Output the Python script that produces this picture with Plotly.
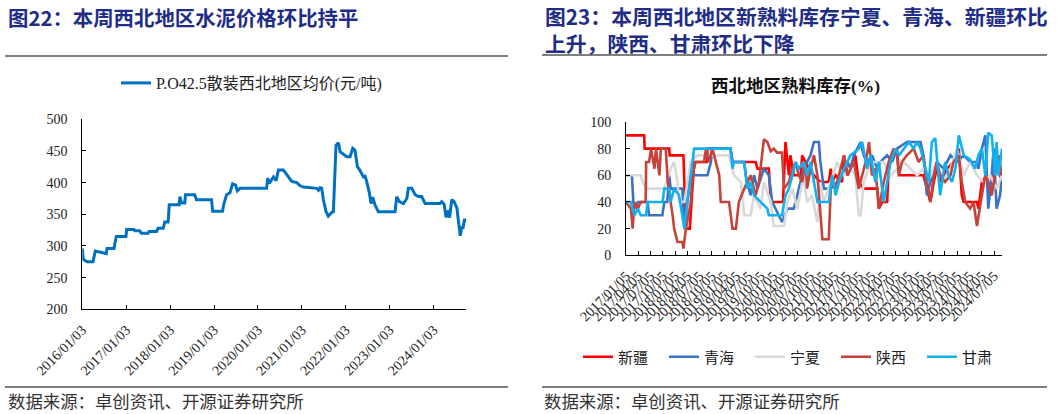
import plotly.graph_objects as go
import pandas as pd

# ---------------- data: left chart (P.O42.5 bulk cement, NW average price, yuan/t)
price_dates = [
    "2016-01-03", "2016-01-11", "2016-02-12", "2016-04-01", "2016-04-20", "2016-07-20",
    "2016-07-27", "2016-09-23", "2016-09-29", "2016-10-12", "2016-12-31", "2017-01-06",
    "2017-03-07", "2017-03-15", "2017-04-24", "2017-05-09", "2017-07-03", "2017-07-12",
    "2017-09-11", "2017-09-24", "2017-11-06", "2017-11-19", "2017-12-17", "2017-12-26",
    "2018-03-18", "2018-03-25", "2018-04-07", "2018-05-04", "2018-05-10", "2018-07-26",
    "2018-08-09", "2018-12-13", "2018-12-22", "2019-03-14", "2019-03-26", "2019-04-17",
    "2019-05-15", "2019-06-06", "2019-07-01", "2019-07-15", "2019-08-07", "2020-03-15",
    "2020-03-24", "2020-04-07", "2020-04-27", "2020-05-11", "2020-06-02", "2020-06-21",
    "2020-08-01", "2020-08-30", "2020-10-10", "2020-11-21", "2020-12-19", "2021-01-16",
    "2021-05-06", "2021-05-20", "2021-06-03", "2021-06-16", "2021-06-30", "2021-07-22",
    "2021-08-10", "2021-09-07", "2021-09-21", "2021-10-13", "2021-11-02", "2021-11-16",
    "2021-12-14", "2022-01-10", "2022-02-07", "2022-03-01", "2022-03-20", "2022-04-09",
    "2022-05-01", "2022-05-29", "2022-06-12", "2022-06-25", "2022-07-17", "2022-07-31",
    "2022-08-14", "2022-09-02", "2022-09-30", "2023-02-16", "2023-03-02", "2023-03-24",
    "2023-04-27", "2023-05-25", "2023-06-07", "2023-07-05", "2023-08-02", "2023-08-29",
    "2023-09-26", "2023-10-24", "2024-02-25", "2024-03-10", "2024-03-30", "2024-04-16",
    "2024-04-27", "2024-05-14", "2024-06-02", "2024-06-21", "2024-07-14", "2024-07-28",
    "2024-08-11", "2024-08-26", "2024-09-03", "2024-09-14", "2024-09-28",
]
price_values = [
    296, 279, 275, 275, 292, 288,
    296, 296, 303, 315, 315, 326,
    326, 324, 324, 320, 320, 323,
    323, 328, 328, 338, 338, 365,
    365, 378, 368, 368, 381, 381,
    373, 373, 355, 355, 367, 381,
    384, 398, 396, 387, 391, 391,
    407, 399, 405, 409, 403, 420,
    420, 413, 402, 400, 395, 393,
    391, 388, 392, 391, 373, 354,
    347, 353, 354, 459, 463, 449,
    445, 441, 441, 454, 451, 425,
    419, 409, 410, 402, 384, 367,
    377, 365, 354, 354, 378, 370,
    367, 375, 391, 391, 381, 378,
    378, 367, 367, 370, 366, 345,
    356, 345, 373, 370, 360, 336,
    316, 331, 327, 341, 341,
]
price_ticks = ["2016-01-03", "2017-01-03", "2018-01-03", "2019-01-03", "2020-01-03",
               "2021-01-03", "2022-01-03", "2023-01-03", "2024-01-03"]
price_ticktext = ["2016/01/03", "2017/01/03", "2018/01/03", "2019/01/03", "2020/01/03",
                  "2021/01/03", "2022/01/03", "2023/01/03", "2024/01/03"]

# ---------------- data: right chart (NW clinker inventory %, time in decimal years)
xj_t = [2017.00, 2017.37, 2017.38, 2017.88, 2017.89, 2018.17, 2018.22, 2018.30, 2018.39, 2018.65,
        2018.66, 2019.13, 2019.17, 2019.64, 2019.68, 2019.91, 2019.95, 2020.20, 2020.25, 2020.29,
        2020.32, 2020.35, 2020.42, 2020.56, 2020.59, 2020.66, 2020.73, 2020.83, 2020.96, 2021.13,
        2021.17, 2021.20, 2021.27, 2021.40, 2021.44, 2021.51, 2021.57, 2021.67, 2021.74, 2021.84,
        2022.01, 2022.12, 2022.15, 2022.22, 2022.32, 2022.35, 2022.42, 2022.52, 2022.56, 2022.79,
        2023.06, 2023.13, 2023.20, 2023.27, 2023.33, 2023.40, 2023.54, 2023.67, 2023.78, 2023.84,
        2023.88, 2024.15, 2024.18, 2024.25, 2024.35, 2024.42, 2024.49, 2024.55, 2024.62, 2024.66]
xj_v = [90, 90, 80, 80, 75, 75, 20, 20, 70, 70,
        80, 80, 70, 70, 65, 65, 40, 40, 85, 72,
        60, 75, 60, 60, 75, 70, 65, 60, 55, 55,
        65, 55, 60, 55, 75, 60, 65, 75, 55, 50,
        50, 50, 35, 40, 40, 65, 75, 80, 60, 60,
        60, 50, 40, 55, 65, 55, 65, 70, 80, 45,
        40, 40, 35, 55, 60, 45, 55, 75, 60, 55]

qh_t = [2017.00, 2017.12, 2017.15, 2017.20, 2017.24, 2017.44, 2017.47, 2017.74, 2017.78, 2017.84,
        2017.88, 2017.91, 2018.15, 2018.19, 2018.25, 2018.32, 2018.66, 2018.73, 2018.76, 2019.13,
        2019.17, 2019.41, 2019.44, 2019.47, 2019.54, 2019.61, 2019.68, 2019.81, 2019.91, 2019.98,
        2020.18, 2020.29, 2020.42, 2020.49, 2020.56, 2020.62, 2020.76, 2020.83, 2020.93, 2020.96,
        2021.03, 2021.13, 2021.20, 2021.27, 2021.34, 2021.40, 2021.51, 2021.57, 2021.64, 2021.78,
        2021.84, 2021.91, 2022.01, 2022.12, 2022.18, 2022.32, 2022.42, 2022.52, 2022.72, 2023.00,
        2023.06, 2023.13, 2023.20, 2023.27, 2023.33, 2023.47, 2023.61, 2023.74, 2023.88, 2024.01,
        2024.15, 2024.18, 2024.25, 2024.32, 2024.38, 2024.45, 2024.49, 2024.55, 2024.62, 2024.66]
qh_v = [60, 60, 40, 35, 40, 40, 30, 30, 40, 40,
        60, 50, 50, 20, 40, 60, 60, 70, 80, 80,
        70, 70, 60, 55, 45, 60, 50, 65, 60, 40,
        25, 35, 35, 45, 55, 65, 75, 85, 85, 70,
        50, 50, 55, 50, 55, 60, 70, 65, 75, 85,
        75, 70, 75, 65, 70, 75, 70, 80, 85, 85,
        75, 45, 55, 60, 70, 65, 75, 70, 75, 70,
        70, 65, 80, 90, 35, 60, 80, 35, 45, 60]

nx_t = [2017.00, 2017.30, 2017.34, 2017.41, 2017.78, 2017.91, 2017.98, 2018.05, 2018.08, 2018.19,
        2018.32, 2018.46, 2019.10, 2019.20, 2019.34, 2019.41, 2019.54, 2019.61, 2019.74, 2019.81,
        2019.95, 2020.01, 2020.22, 2020.29, 2020.39, 2020.49, 2020.62, 2020.69, 2020.79, 2020.90,
        2020.96, 2021.03, 2021.17, 2021.30, 2021.44, 2021.57, 2021.67, 2021.74, 2021.78, 2021.84,
        2021.98, 2022.25, 2022.39, 2022.52, 2022.66, 2022.79, 2022.93, 2023.06, 2023.20, 2023.33,
        2023.47, 2023.61, 2023.74, 2023.88, 2024.01, 2024.15, 2024.28, 2024.42, 2024.55, 2024.66]
nx_v = [60, 60, 55, 50, 50, 65, 70, 55, 40, 40,
        70, 75, 75, 60, 55, 30, 30, 45, 35, 55,
        40, 22, 22, 40, 50, 35, 60, 40, 45, 25,
        55, 40, 55, 70, 60, 65, 60, 30, 30, 55,
        70, 70, 60, 65, 70, 65, 60, 65, 60, 70,
        55, 65, 80, 60, 70, 60, 55, 60, 50, 60]

sx_t = [2017.00, 2017.10, 2017.135, 2017.17, 2017.24, 2017.30, 2017.40, 2017.41, 2017.47, 2017.51,
        2017.58, 2017.61, 2017.68, 2017.71, 2017.81, 2017.85, 2017.95, 2017.98, 2018.05, 2018.15,
        2018.17, 2018.22, 2018.32, 2018.355, 2018.42, 2018.59, 2018.63, 2018.69, 2018.76, 2018.83,
        2018.90, 2018.93, 2019.10, 2019.17, 2019.24, 2019.30, 2019.41, 2019.54, 2019.64, 2019.71,
        2019.81, 2019.88, 2019.95, 2020.01, 2020.08, 2020.18, 2020.22, 2020.32, 2020.39, 2020.46,
        2020.52, 2020.59, 2020.66, 2020.69, 2020.76, 2020.83, 2020.90, 2021.00, 2021.13, 2021.17,
        2021.30, 2021.44, 2021.51, 2021.64, 2021.74, 2021.81, 2021.88, 2021.95, 2022.01, 2022.08,
        2022.15, 2022.25, 2022.35, 2022.45, 2022.52, 2022.56, 2022.62, 2022.72, 2022.86, 2022.96,
        2023.06, 2023.13, 2023.20, 2023.27, 2023.33, 2023.40, 2023.50, 2023.61, 2023.67, 2023.78,
        2023.84, 2023.91, 2024.01, 2024.08, 2024.15, 2024.25, 2024.32, 2024.38, 2024.45, 2024.52,
        2024.59, 2024.66]
sx_v = [40, 35, 20, 40, 35, 40, 40, 70, 70, 80,
        65, 80, 60, 80, 80, 55, 30, 20, 10, 10,
        5, 20, 40, 60, 70, 70, 80, 70, 80, 70,
        60, 40, 40, 20, 20, 40, 50, 60, 45, 55,
        87, 85, 78, 80, 77, 77, 50, 55, 65, 70,
        60, 55, 70, 50, 65, 75, 60, 12, 12, 50,
        55, 75, 60, 70, 50, 60, 70, 85, 60, 65,
        35, 55, 70, 80, 75, 60, 70, 75, 80, 70,
        75, 55, 40, 60, 70, 60, 55, 60, 70, 75,
        55, 40, 35, 40, 22, 45, 60, 55, 45, 60,
        75, 60]

gs_t = [2017.00, 2017.10, 2017.17, 2017.24, 2017.30, 2017.41, 2017.44, 2017.745, 2017.78, 2017.88,
        2017.91, 2017.98, 2018.08, 2018.19, 2018.25, 2018.32, 2018.39, 2019.13, 2019.17, 2019.20,
        2019.41, 2019.47, 2019.54, 2019.61, 2019.74, 2019.88, 2019.91, 2020.18, 2020.25, 2020.32,
        2020.39, 2020.46, 2020.52, 2020.62, 2020.69, 2020.76, 2020.90, 2021.13, 2021.20, 2021.27,
        2021.34, 2021.44, 2021.57, 2021.67, 2021.74, 2021.81, 2021.91, 2021.98, 2022.08, 2022.15,
        2022.25, 2022.32, 2022.39, 2022.49, 2022.56, 2022.66, 2022.76, 2022.86, 2022.93, 2023.00,
        2023.10, 2023.17, 2023.23, 2023.30, 2023.40, 2023.50, 2023.57, 2023.64, 2023.71, 2023.78,
        2023.88, 2024.01, 2024.11, 2024.18, 2024.25, 2024.32, 2024.38, 2024.45, 2024.52, 2024.55,
        2024.59, 2024.66]
gs_v = [40, 40, 30, 35, 30, 30, 40, 40, 50, 50,
        40, 50, 45, 20, 40, 60, 80, 80, 65, 70,
        70, 50, 55, 45, 40, 35, 30, 30, 45, 50,
        60, 70, 65, 70, 60, 70, 40, 40, 60, 45,
        55, 65, 75, 78, 80, 85, 65, 75, 55, 70,
        40, 55, 70, 80, 75, 80, 85, 80, 85, 80,
        65, 55, 85, 88, 45, 70, 60, 55, 65, 90,
        75, 72, 65, 75, 80, 60, 92, 90, 60, 85,
        60, 80]

inv_ticks = ["2017-01-05", "2017-04-05", "2017-07-05", "2017-10-05",
             "2018-01-05", "2018-04-05", "2018-07-05", "2018-10-05",
             "2019-01-05", "2019-04-05", "2019-07-05", "2019-10-05",
             "2020-01-05", "2020-04-05", "2020-07-05", "2020-10-05",
             "2021-01-05", "2021-04-05", "2021-07-05", "2021-10-05",
             "2022-01-05", "2022-04-05", "2022-07-05", "2022-10-05",
             "2023-01-05", "2023-04-05", "2023-07-05", "2023-10-05",
             "2024-01-05", "2024-04-05", "2024-07-05"]
inv_ticktext = [d.replace("-", "/") for d in inv_ticks]

series = [
    ("新疆", xj_t, xj_v, "#FF0000"),
    ("青海", qh_t, qh_v, "#3A72C6"),
    ("宁夏", nx_t, nx_v, "#D9D9D9"),
    ("陕西", sx_t, sx_v, "#C5433A"),
    ("甘肃", gs_t, gs_v, "#12B0EE"),
]


def dec_to_date(v):
    y = int(v)
    return pd.Timestamp(year=y, month=1, day=5) + pd.Timedelta(days=(v - y) * 365.25)


# ---------------- figure
W, H = 1057, 414
SERIF = "Liberation Serif, Noto Sans CJK SC"
CJK = "Noto Sans CJK SC"
NAVY = "#1F2D86"


def fx(p):
    return p / W


def fy(p):
    return 1 - p / H


fig = go.Figure()

fig.add_trace(go.Scatter(
    x=pd.to_datetime(price_dates), y=price_values, mode="lines",
    name="P.O42.5散装西北地区均价(元/吨)",
    line=dict(color="#0070C0", width=3),
    xaxis="x", yaxis="y", legend="legend",
))

for name, t, v, color in series:
    fig.add_trace(go.Scatter(
        x=[dec_to_date(a) for a in t], y=v, mode="lines", name=name,
        line=dict(color=color, width=2.6),
        xaxis="x2", yaxis="y2", legend="legend2",
    ))

axis_common = dict(showline=True, linecolor="#000000", linewidth=1, showgrid=False,
                   zeroline=False, ticks="inside", ticklen=4, tickcolor="#000000",
                   automargin=False,
                   tickfont=dict(family=SERIF, size=14, color="#222222"))

fig.update_layout(
    width=W, height=H,
    margin=dict(l=0, r=0, t=0, b=0, autoexpand=False),
    paper_bgcolor="white", plot_bgcolor="white",
    xaxis=dict(domain=[fx(82.3), fx(466)], anchor="y", type="date",
               range=["2016-01-03", "2024-09-28"],
               tickvals=pd.to_datetime(price_ticks), ticktext=price_ticktext,
               tickangle=-45, ticklabelstandoff=6, **axis_common),
    yaxis=dict(domain=[fy(309.3), fy(119.3)], anchor="x", range=[200, 500], dtick=50,
               tick0=200, ticklabelstandoff=11, **axis_common),
    xaxis2=dict(domain=[fx(626), fx(1002)], anchor="y2", type="date",
                range=[dec_to_date(2017.0), dec_to_date(2024.66)],
                tickvals=pd.to_datetime(inv_ticks), ticktext=inv_ticktext,
                tickangle=-45, ticklabelstandoff=6, **axis_common),
    yaxis2=dict(domain=[fy(255.3), fy(122)], anchor="x2", range=[0, 100], dtick=20,
                tick0=0, ticklabelstandoff=11, **axis_common),
    legend=dict(x=fx(116), y=fy(83), xanchor="left", yanchor="middle",
                orientation="h", bgcolor="rgba(0,0,0,0)",
                font=dict(family=SERIF, size=16, color="#222222")),
    legend2=dict(x=fx(578), y=fy(357), xanchor="left", yanchor="middle",
                 orientation="h", entrywidth=41, entrywidthmode="pixels",
                 bgcolor="rgba(0,0,0,0)",
                 font=dict(family=SERIF, size=15, color="#222222")),
    showlegend=True,
)

annotations = [
    dict(text="<b>图22：本周西北地区水泥价格环比持平</b>", x=fx(6), y=fy(17),
         font=dict(family=CJK, size=20.4, color=NAVY)),
    dict(text="<b>图23：本周西北地区新熟料库存宁夏、青海、新疆环比</b>", x=fx(543), y=fy(16),
         font=dict(family=CJK, size=20.8, color=NAVY)),
    dict(text="<b>上升，陕西、甘肃环比下降</b>", x=fx(543), y=fy(43),
         font=dict(family=CJK, size=20.8, color=NAVY)),
    dict(text="<b>西北地区熟料库存(%)</b>", x=fx(795), y=fy(86), xanchor="center",
         font=dict(family=SERIF, size=17.5, color="#111111")),
    dict(text="数据来源：卓创资讯、开源证券研究所", x=fx(6), y=fy(400),
         font=dict(family=CJK, size=17.4, color="#333333")),
    dict(text="数据来源：卓创资讯、开源证券研究所", x=fx(542), y=fy(400),
         font=dict(family=CJK, size=17.4, color="#333333")),
]
for a in annotations:
    a.setdefault("xanchor", "left")
    fig.add_annotation(xref="paper", yref="paper", yanchor="middle", showarrow=False, **a)

for x0, x1, y in [(5, 508, 56), (542, 1047, 55), (5, 508, 387), (542, 1047, 387)]:
    fig.add_shape(type="line", xref="paper", yref="paper",
                  x0=fx(x0), x1=fx(x1), y0=fy(y), y1=fy(y),
                  line=dict(color="#000000", width=1.2))

fig.write_html("out.html", config={"displayModeBar": False},
               post_script="document.body.style.margin='0';document.body.style.overflow='hidden';")
